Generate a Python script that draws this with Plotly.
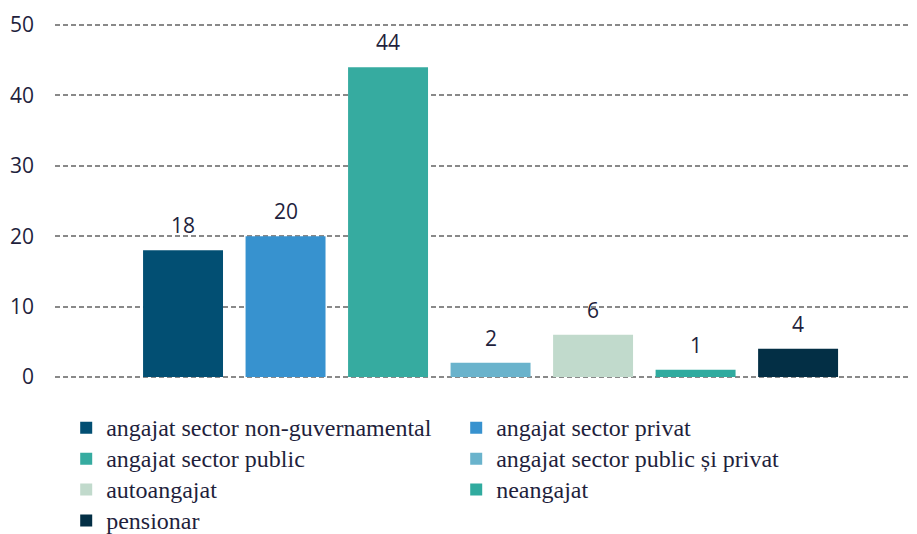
import plotly.graph_objects as go

series = ["angajat sector non-guvernamental", "angajat sector privat", "angajat sector public",
          "angajat sector public și privat", "autoangajat", "neangajat", "pensionar"]
values = [18, 20, 44, 2, 6, 1, 4]
colors = ["#024f73", "#3792cf", "#36aba0", "#6ab3cc", "#c1dacc", "#30ab9f", "#032f45"]
y_ticks = [0, 10, 20, 30, 40, 50]

txt_color = "#1f1f3d"
fig = go.Figure()
for i, (name, v, c) in enumerate(zip(series, values, colors)):
    fig.add_trace(go.Bar(x=[i], y=[v], name=f'<span style="font-size:24px">{name}</span>',
                         marker_color=c, width=0.78,
                         marker_line_width=0, hovertemplate=f"{name}: %{{y}}<extra></extra>"))
    fig.add_annotation(x=i, y=v, text=str(v), showarrow=False, yanchor="bottom", yshift=9,
                       font=dict(family="Open Sans", size=21, color=txt_color))

fig.update_layout(
    width=909, height=526,
    margin=dict(l=47, r=0, t=15, b=155, autoexpand=False),
    plot_bgcolor="white", paper_bgcolor="white",
    showlegend=True,
    legend=dict(orientation="h", x=0.013, xanchor="left",
                y=0.241, yref="container", yanchor="top",
                font=dict(family="Liberation Serif", size=21.5, color=txt_color),
                entrywidth=345, entrywidthmode="pixels", traceorder="normal",
                itemclick=False),
    xaxis=dict(range=[-1.249, 7.16], showticklabels=False, showgrid=False, zeroline=False,
               showline=False, ticks=""),
    yaxis=dict(range=[-0.3, 50.3], tickvals=y_ticks, showgrid=True, gridcolor="#898989",
               griddash="5px,3px", gridwidth=1.8, zeroline=False, showline=False,
               ticklabelstandoff=20,
               tickfont=dict(family="Open Sans", size=21, color=txt_color)),
)
fig.write_html("out.html")
